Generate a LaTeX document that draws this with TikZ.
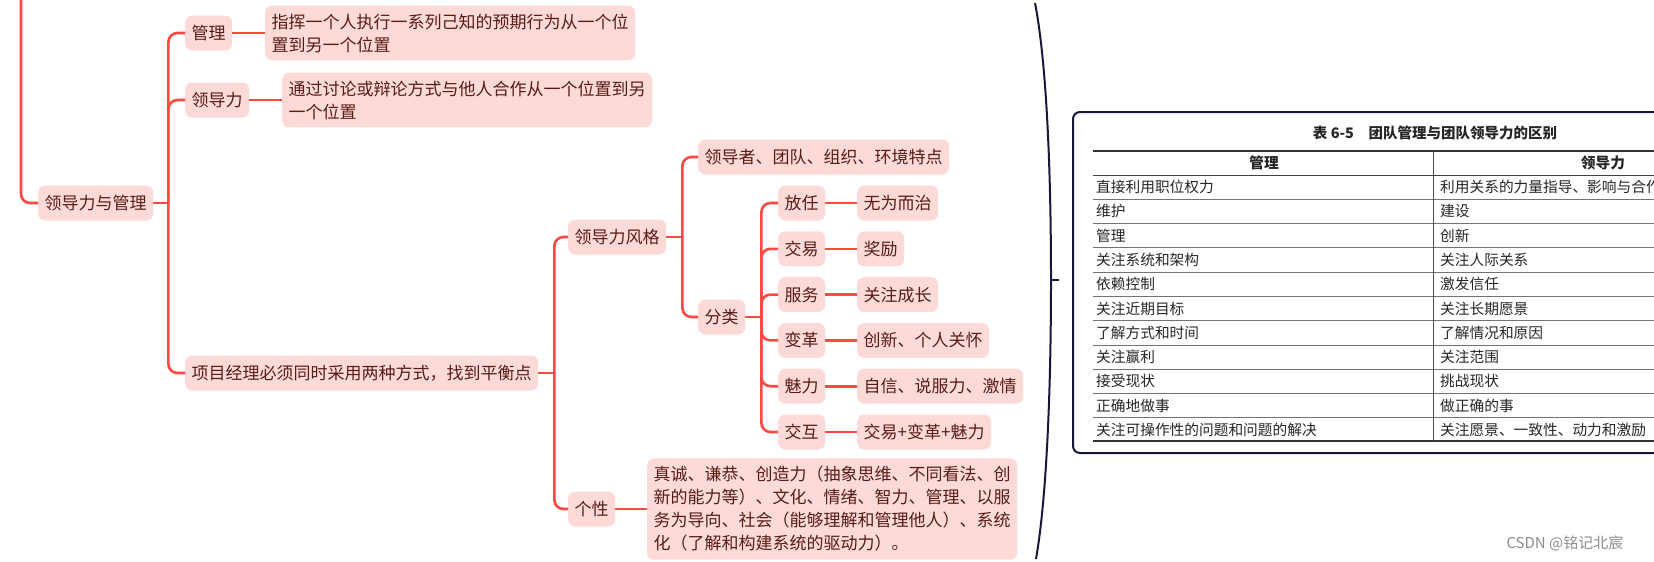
\documentclass[tikz,border=0pt]{standalone}
\usepackage{fontspec}
\setmainfont{Noto Sans CJK SC}
\usetikzlibrary{calc}

\definecolor{mmred}{RGB}{255,72,66}
\definecolor{mmfill}{RGB}{253,218,216}
\definecolor{mmtext}{RGB}{88,28,22}
\definecolor{navy}{RGB}{22,24,58}

\begin{document}
\begin{tikzpicture}[x=1pt,y=-1pt,
  mm/.style={fill=mmfill,text=mmtext,rounded corners=7pt,anchor=west,inner xsep=6.5pt,inner ysep=8pt,
    minimum height=35pt,align=left,font=\fontsize{17}{23}\selectfont},
  link/.style={draw=mmred,line width=2.6pt,rounded corners=9pt},
  cell/.style={anchor=west,inner sep=0pt,text=black!85,font=\fontsize{14.7}{17}\selectfont},
  rule/.style={draw=black!80,line width=1.6pt}]
\useasboundingbox (0,0) rectangle (1654,562);

% mind map
\node[mm] (root) at (38,203) {领导力与管理};
\node[mm] (mg) at (185,33) {管理};
\node[mm] (mgd) at (265,33) {指挥一个人执行一系列己知的预期行为从一个位\\置到另一个位置};
\node[mm] (ld) at (185,100) {领导力};
\node[mm] (ldd) at (282,100) {通过讨论或辩论方式与他人合作从一个位置到另\\一个位置};
\node[mm] (pm) at (185,373) {项目经理必须同时采用两种方式，找到平衡点};
\node[mm] (sty) at (568,237) {领导力风格};
\node[mm] (feat) at (698,157) {领导者、团队、组织、环境特点};
\node[mm] (cls) at (698,317) {分类};
\node[mm] (per) at (568,509) {个性};
\node[mm] (perd) at (647,509) {真诚、谦恭、创造力（抽象思维、不同看法、创\\新的能力等）、文化、情绪、智力、管理、以服\\务为导向、社会（能够理解和管理他人）、系统\\化（了解和构建系统的驱动力）。};

\foreach \a/\b [count=\i] in {放任/无为而治,交易/奖励,服务/关注成长,变革/创新、个人关怀,魅力/自信、说服力、激情,交互/交易+变革+魅力}{
  \node[mm] (k\i) at (778,{203+45.8*(\i-1)}) {\a};
  \node[mm] (v\i) at (857,{203+45.8*(\i-1)}) {\b};
  \draw[link] (k\i.east) -- (v\i.west);
}

\coordinate (top) at (21,-5);
\coordinate (j1) at ($(root.east)+(15,0)$);
\coordinate (j2) at ($(pm.east)+(16,0)$);
\coordinate (j3) at ($(sty.east)+(16,0)$);
\coordinate (j4) at ($(cls.east)+(16,0)$);

\draw[link] (top) |- (root.west);
\draw[link] (root.east) -- (j1);
\foreach \c in {mg,ld,pm} \draw[link] (j1) |- (\c.west);
\draw[link] (mg.east) -- (mgd.west);
\draw[link] (ld.east) -- (ldd.west);
\draw[link] (pm.east) -- (j2);
\foreach \c in {sty,per} \draw[link] (j2) |- (\c.west);
\draw[link] (per.east) -- (perd.west);
\draw[link] (sty.east) -- (j3);
\foreach \c in {feat,cls} \draw[link] (j3) |- (\c.west);
\draw[link] (cls.east) -- (j4);
\foreach \i in {1,...,6} \draw[link] (j4) |- (k\i.west);

% brace
\draw[navy,line width=2pt] (1035,3) .. controls (1048,70) and (1051,190) .. (1051,280)
  .. controls (1051,370) and (1048,490) .. (1036,559);
\draw[navy,line width=2pt] (1051,280) -- (1059,280);

% table
\begin{scope}
\clip (0,0) rectangle (1654,562);
\draw[navy,line width=2pt,rounded corners=7pt] (1073,112) rectangle (1720,453);
\node[font=\bfseries\fontsize{14.5}{17}\selectfont,text=black!85] (ttl) at (1435,133) {表 6-5\quad 团队管理与团队领导力的区别};
\draw[rule] (1093,151) -- (1680,151);
\node[font=\bfseries\fontsize{14.7}{17}\selectfont,text=black!85] (hl) at (1264,163) {管理};
\node[font=\bfseries\fontsize{14.7}{17}\selectfont,text=black!85] (hr) at (1603,163) {领导力};
\draw[draw=black!75,line width=1pt] (1093,175) -- (1680,175);
\foreach \a/\b [count=\i] in {直接利用职位权力/利用关系的力量指导、影响与合作,维护/建设,管理/创新,
  关注系统和架构/关注人际关系,依赖控制/激发信任,关注近期目标/关注长期愿景,了解方式和时间/了解情况和原因,
  关注赢利/关注范围,接受现状/挑战现状,正确地做事/做正确的事,关注可操作性的问题和问题的解决/关注愿景、一致性、动力和激励}{
  \node[cell] (tl\i) at (1096,{187+24.3*(\i-1)}) {\a};
  \node[cell] (tr\i) at (1440,{187+24.3*(\i-1)}) {\b};
  \ifnum\i<11 \draw[black!55,line width=0.8pt] (1093,{199.15+24.3*(\i-1)}) -- (1680,{199.15+24.3*(\i-1)}); \fi
}
\draw[rule] (1093,441) -- (1680,441);
\draw[black!70,line width=0.8pt] (1433,151) -- (1433,441);
\end{scope}

\node[anchor=west,text=black!45,font=\fontsize{15}{17}\selectfont] (wm) at (1503,543) {CSDN @铭记北宸};
\end{tikzpicture}
\end{document}
